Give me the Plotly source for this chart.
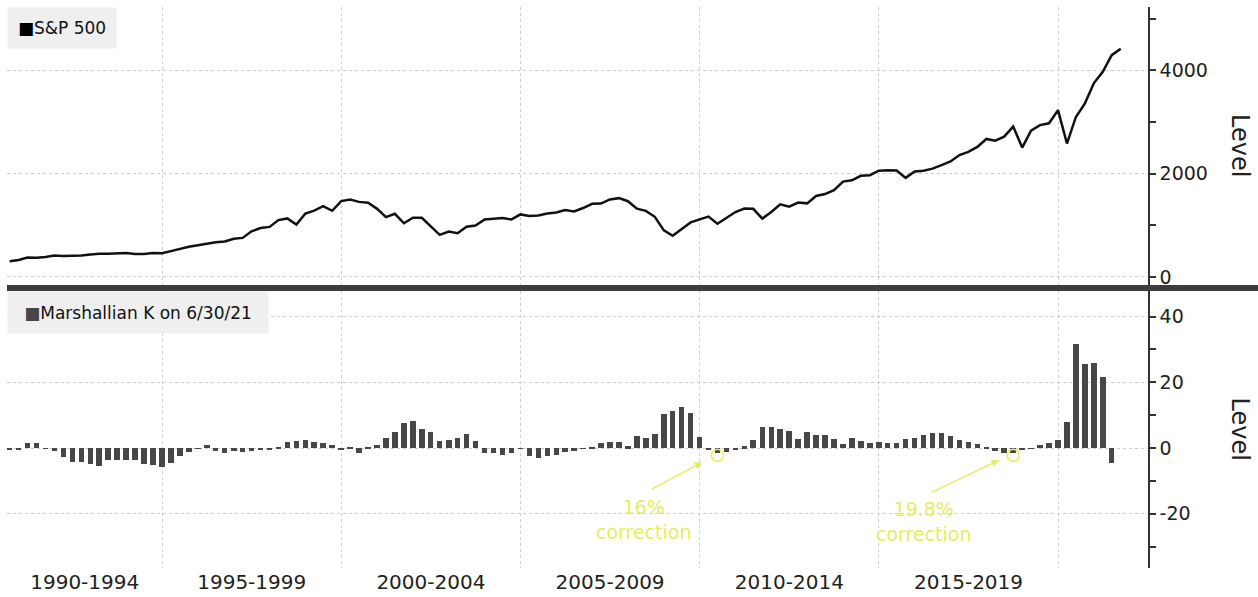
import plotly.graph_objects as go
from plotly.subplots import make_subplots
import pandas as pd

# ---------------- data ----------------
quarters = pd.period_range("1990Q3", "2021Q3", freq="Q")
dates = [p.end_time.strftime("%Y-%m-%d") for p in quarters]

sp500 = [306, 330,
         375, 371, 388, 417,
         404, 408, 418, 436,
         452, 451, 459, 466,
         446, 444, 463, 459,
         501, 545, 584, 616,
         646, 671, 687, 741,
         757, 885, 947, 970,
         1102, 1134, 1017, 1229,
         1286, 1373, 1283, 1469,
         1499, 1455, 1437, 1320,
         1160, 1224, 1041, 1148,
         1147, 990, 815, 880,
         848, 975, 996, 1112,
         1126, 1141, 1115, 1212,
         1181, 1191, 1229, 1248,
         1295, 1270, 1336, 1418,
         1421, 1503, 1527, 1468,
         1323, 1280, 1166, 903,
         798, 919, 1057, 1115,
         1169, 1031, 1141, 1258,
         1326, 1321, 1131, 1258,
         1408, 1362, 1441, 1426,
         1569, 1606, 1682, 1848,
         1872, 1960, 1972, 2059,
         2068, 2063, 1920, 2044,
         2060, 2099, 2168, 2239,
         2363, 2423, 2519, 2674,
         2641, 2718, 2914, 2507,
         2834, 2942, 2977, 3231,
         2585, 3100, 3363, 3756,
         3973, 4298, 4420]

marshallian_k = [-0.3, -0.5,
                 1.6, 1.5, -0.2, -0.8,
                 -2.8, -4.2, -4.2, -4.7,
                 -5.4, -3.5, -3.7, -3.7,
                 -3.5, -4.9, -5.2, -5.7,
                 -4.6, -2.4, -1.3, -0.2,
                 0.9, -0.8, -1.4, -0.9,
                 -1.3, -0.9, -0.7, -0.4,
                 0.3, 1.7, 2.2, 2.5,
                 1.8, 1.5, 0.8, -0.3,
                 0.2, -1.6, 0.2, 0.9,
                 3.1, 5.0, 7.5, 8.2,
                 5.7, 4.8, 2.2, 2.6,
                 3.1, 4.4, 2.2, -1.4,
                 -1.6, -2.2, -1.6, -0.2,
                 -2.3, -2.9, -2.4, -2.1,
                 -1.2, -1.0, -0.2, 0.1,
                 1.6, 1.8, 1.8, 0.6,
                 3.8, 3.0, 4.2, 10.3,
                 11.3, 12.6, 10.8, 3.4,
                 -0.4, -1.6, -1.3, -0.5,
                 0.6, 2.4, 6.3, 6.3,
                 5.7, 5.3, 2.7, 4.8,
                 4.1, 4.1, 2.7, 1.3,
                 3.1, 2.2, 1.4, 1.8,
                 1.4, 1.6, 2.7, 3.1,
                 4.1, 4.7, 4.7, 3.8,
                 2.4, 2.0, 1.2, 0.3,
                 -0.8, -1.6, -1.6, -0.6,
                 -0.1, 0.8, 1.6, 2.6,
                 7.9, 31.7, 25.6, 26.0,
                 21.7, -4.5]

period_labels = ["1990-1994", "1995-1999", "2000-2004", "2005-2009", "2010-2014", "2015-2019"]
period_bounds = ["1995-01-01", "2000-01-01", "2005-01-01", "2010-01-01", "2015-01-01", "2020-01-01"]

top_ticks = [0, 2000, 4000]
top_minor = [1000, 3000, 5000]
bot_ticks = [-20, 0, 20, 40]
bot_tick_text = ["-20", "0", "20", "40"]
bot_minor = [-30, -10, 10, 30]

corrections = ["16%", "19.8%"]
correction_quarters = ["2010Q2", "2018Q3"]

# ---------------- figure ----------------
FONT = "DejaVu Sans"
YELLOW = "#e6ee5e"
GRID = "#cdcdcd"
AXIS = "#333333"

fig = make_subplots(rows=2, cols=1, shared_xaxes=True, vertical_spacing=0.01)

fig.add_trace(go.Scatter(x=dates, y=sp500, mode="lines",
                         line=dict(color="#111111", width=2.5),
                         showlegend=False), row=1, col=1)
fig.add_trace(go.Bar(x=dates[:len(marshallian_k)], y=marshallian_k,
                     marker=dict(color="#474747", line=dict(width=0)),
                     width=56 * 86400000, showlegend=False), row=2, col=1)

x_range = ["1990-09-03", "2022-07-05"]
label_pos = ["1992-11-03", "1997-07-02", "2002-07-02", "2007-07-02", "2012-07-02", "2017-07-02"]

common_x = dict(type="date", range=x_range, showgrid=False, zeroline=False,
                showline=False, ticks="", automargin=False,
                minor=dict(tickmode="array", tickvals=period_bounds, showgrid=True,
                           gridcolor=GRID, griddash="dot", gridwidth=1, ticks=""))

fig.update_xaxes(**common_x)
fig.update_xaxes(showticklabels=False, row=1, col=1)
fig.update_xaxes(tickmode="array", tickvals=label_pos, ticktext=period_labels,
                 tickfont=dict(family=FONT, size=20, color="#222222"),
                 showticklabels=True, row=2, col=1)

common_y = dict(side="right", showgrid=True, gridcolor=GRID, griddash="dot", gridwidth=1,
                zeroline=False, showline=True, linecolor=AXIS, linewidth=1.5,
                ticks="outside", ticklen=6, tickcolor=AXIS, tickwidth=1.5,
                tickfont=dict(family=FONT, size=19, color="#222222"),
                tickmode="array", automargin=False)
fig.update_yaxes(**common_y)
fig.update_yaxes(range=[-155, 5230], tickvals=top_ticks,
                 minor=dict(tickmode="array", tickvals=top_minor, ticks="outside",
                            ticklen=6, tickcolor=AXIS, showgrid=False),
                 row=1, col=1)
fig.update_yaxes(range=[-36.5, 47.8], tickvals=bot_ticks, ticktext=bot_tick_text,
                 minor=dict(tickmode="array", tickvals=bot_minor, ticks="outside",
                            ticklen=6, tickcolor=AXIS, showgrid=False),
                 row=2, col=1)

TOP_DOM = [0.5045, 1.0]
BOT_DOM = [0.0, 0.4938]
fig.update_layout(
    width=1258, height=597,
    margin=dict(l=7, r=110, t=7, b=29),
    paper_bgcolor="white", plot_bgcolor="white",
    yaxis=dict(domain=TOP_DOM), yaxis2=dict(domain=BOT_DOM),
    bargap=0, showlegend=False,
    font=dict(family=FONT, color="#222222"),
)

annotations = []
# legend boxes
annotations.append(dict(xref="paper", yref="paper", x=0, y=1, xanchor="left", yanchor="top",
                        text="<span style='color:#000'>■</span>S&P 500", showarrow=False,
                        width=108, height=40, align="center", bgcolor="#efefef", borderpad=0,
                        font=dict(family=FONT, size=17, color="#111111")))
annotations.append(dict(xref="paper", yref="paper", x=0, y=BOT_DOM[1], xanchor="left", yanchor="top",
                        text="<span style='color:#474747'>■</span>Marshallian K on 6/30/21",
                        showarrow=False, width=260, height=41, align="center",
                        bgcolor="#efefef", borderpad=0,
                        font=dict(family=FONT, size=17, color="#111111")))
# axis titles
for dom in (TOP_DOM, BOT_DOM):
    annotations.append(dict(xref="paper", yref="paper", x=1.0806, y=(dom[0] + dom[1]) / 2,
                            xanchor="center", yanchor="middle",
                            text="Level", textangle=90, showarrow=False,
                            font=dict(family=FONT, size=24, color="#222222")))

# correction call-outs
text_pos = [("2008-06-02", -21.8), ("2016-03-26", -22.5)]
arrow_head = [("2010-01-25", -4.3, -52, 28), ("2018-05-10", -3.65, -69, 33)]
for lbl, (tx, ty), (hx, hy, ax, ay) in zip(corrections, text_pos, arrow_head):
    annotations.append(dict(xref="x2", yref="y2", x=tx, y=ty, text=f"{lbl}<br>correction",
                            xanchor="center", yanchor="middle",
                            showarrow=False, font=dict(family=FONT, size=19, color=YELLOW)))
    annotations.append(dict(xref="x2", yref="y2", x=hx, y=hy, ax=ax, ay=ay, text="",
                            showarrow=True, arrowhead=2, arrowsize=1, arrowwidth=1.5,
                            arrowcolor=YELLOW))
fig.update_layout(annotations=annotations)

shapes = []
# panel separator
shapes.append(dict(type="rect", xref="paper", yref="paper", x0=0, x1=1.0964,
                   y0=BOT_DOM[1], y1=TOP_DOM[0], fillcolor="#3d3d3d",
                   line=dict(width=0), layer="above"))
# circles at the correction bars
for q in correction_quarters:
    i = list(quarters.astype(str)).index(q)
    shapes.append(dict(type="circle", xref="x2", yref="y2", xsizemode="pixel", ysizemode="pixel",
                       xanchor=dates[i], yanchor=marshallian_k[i] - 0.6,
                       x0=-6, x1=6, y0=-6, y1=6, line=dict(color=YELLOW, width=1.5)))
fig.update_layout(shapes=shapes)

fig.write_html("out.html", config={"displayModeBar": False},
               post_script="document.body.style.margin='0px';document.body.style.overflow='hidden';")
